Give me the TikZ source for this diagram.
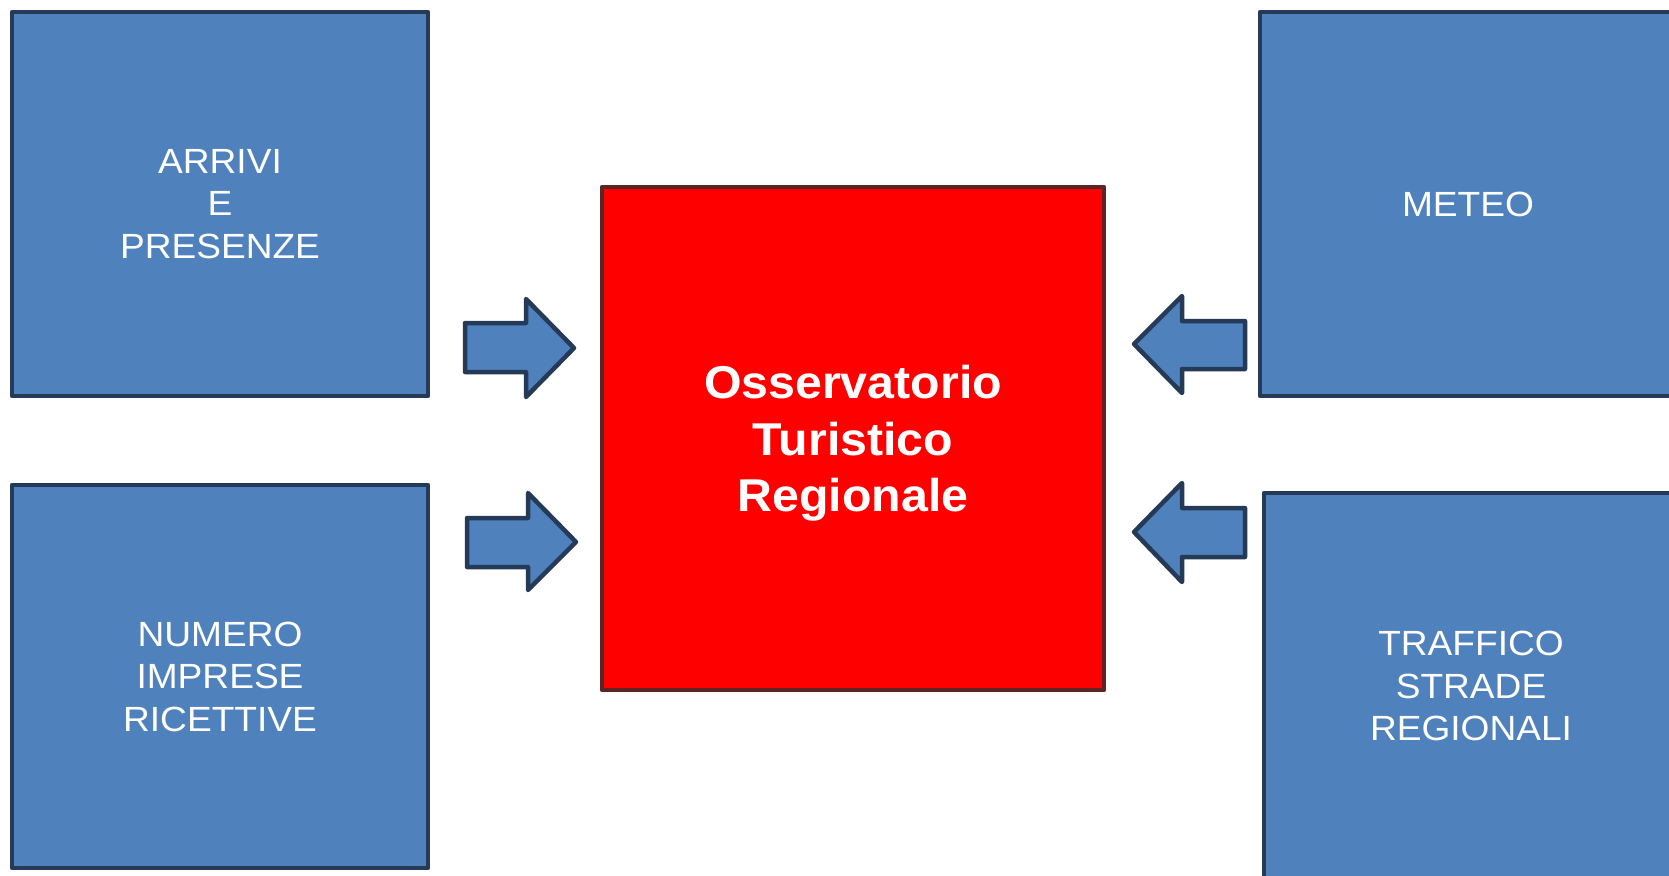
\documentclass[tikz,border=0pt]{standalone}
\usepackage{fontspec}
\setmainfont[FakeStretch=1.06]{Liberation Sans}
\newfontfamily\redfont[FakeStretch=1.05]{Liberation Sans}
\definecolor{boxblue}{HTML}{4F81BD}
\definecolor{boxline}{HTML}{243A56}
\definecolor{redfill}{HTML}{FF0000}
\definecolor{redline}{HTML}{5C2424}
\tikzset{
  bluebox/.style={draw=boxline, fill=boxblue, line width=4.5pt, line join=round,
    text=white, align=center, inner sep=0pt,
    font=\fontsize{35}{42.5}\selectfont},
  redbox/.style={draw=redline, fill=redfill, line width=4.5pt, line join=round,
    text=white, align=center, inner sep=0pt, text depth=0pt,
    font=\redfont\fontsize{46}{56.5}\selectfont\bfseries},
  blockarrow/.style={draw=boxline, fill=boxblue, line width=4.5pt, line join=round}
}
\begin{document}
\begin{tikzpicture}[x=1pt, y=-1pt]
\useasboundingbox (0,0) rectangle (1669,875);
\clip (0,0) rectangle (1669,875);
% source boxes
\node[bluebox, minimum width=416pt, minimum height=384pt] (arr) at (220,204) {ARRIVI\\E\\PRESENZE};
\node[bluebox, minimum width=416pt, minimum height=383pt] (num) at (220,676.5) {NUMERO\\IMPRESE\\RICETTIVE};
\node[bluebox, minimum width=416pt, minimum height=384pt] (met) at (1468,204) {METEO};
\node[bluebox, minimum width=414pt, minimum height=386pt] (tra) at (1471,686) {TRAFFICO\\STRADE\\REGIONALI};
% central box
\node[redbox, minimum width=502pt, minimum height=503pt] (oss) at (853,438.5) {Osservatorio\\Turistico\\Regionale};
% block arrows
\draw[blockarrow] (465,323) -- (526,323) -- (526,299) -- (574,348) -- (526,397) -- (526,372) -- (465,372) -- cycle;
\draw[blockarrow] (467,518) -- (528,518) -- (528,493) -- (576,542) -- (528,590) -- (528,567) -- (467,567) -- cycle;
\draw[blockarrow] (1245,321) -- (1182,321) -- (1182,296) -- (1134,344) -- (1182,393) -- (1182,369) -- (1245,369) -- cycle;
\draw[blockarrow] (1245,508) -- (1182,508) -- (1182,483) -- (1134,532) -- (1182,582) -- (1182,557) -- (1245,557) -- cycle;
\end{tikzpicture}
\end{document}
